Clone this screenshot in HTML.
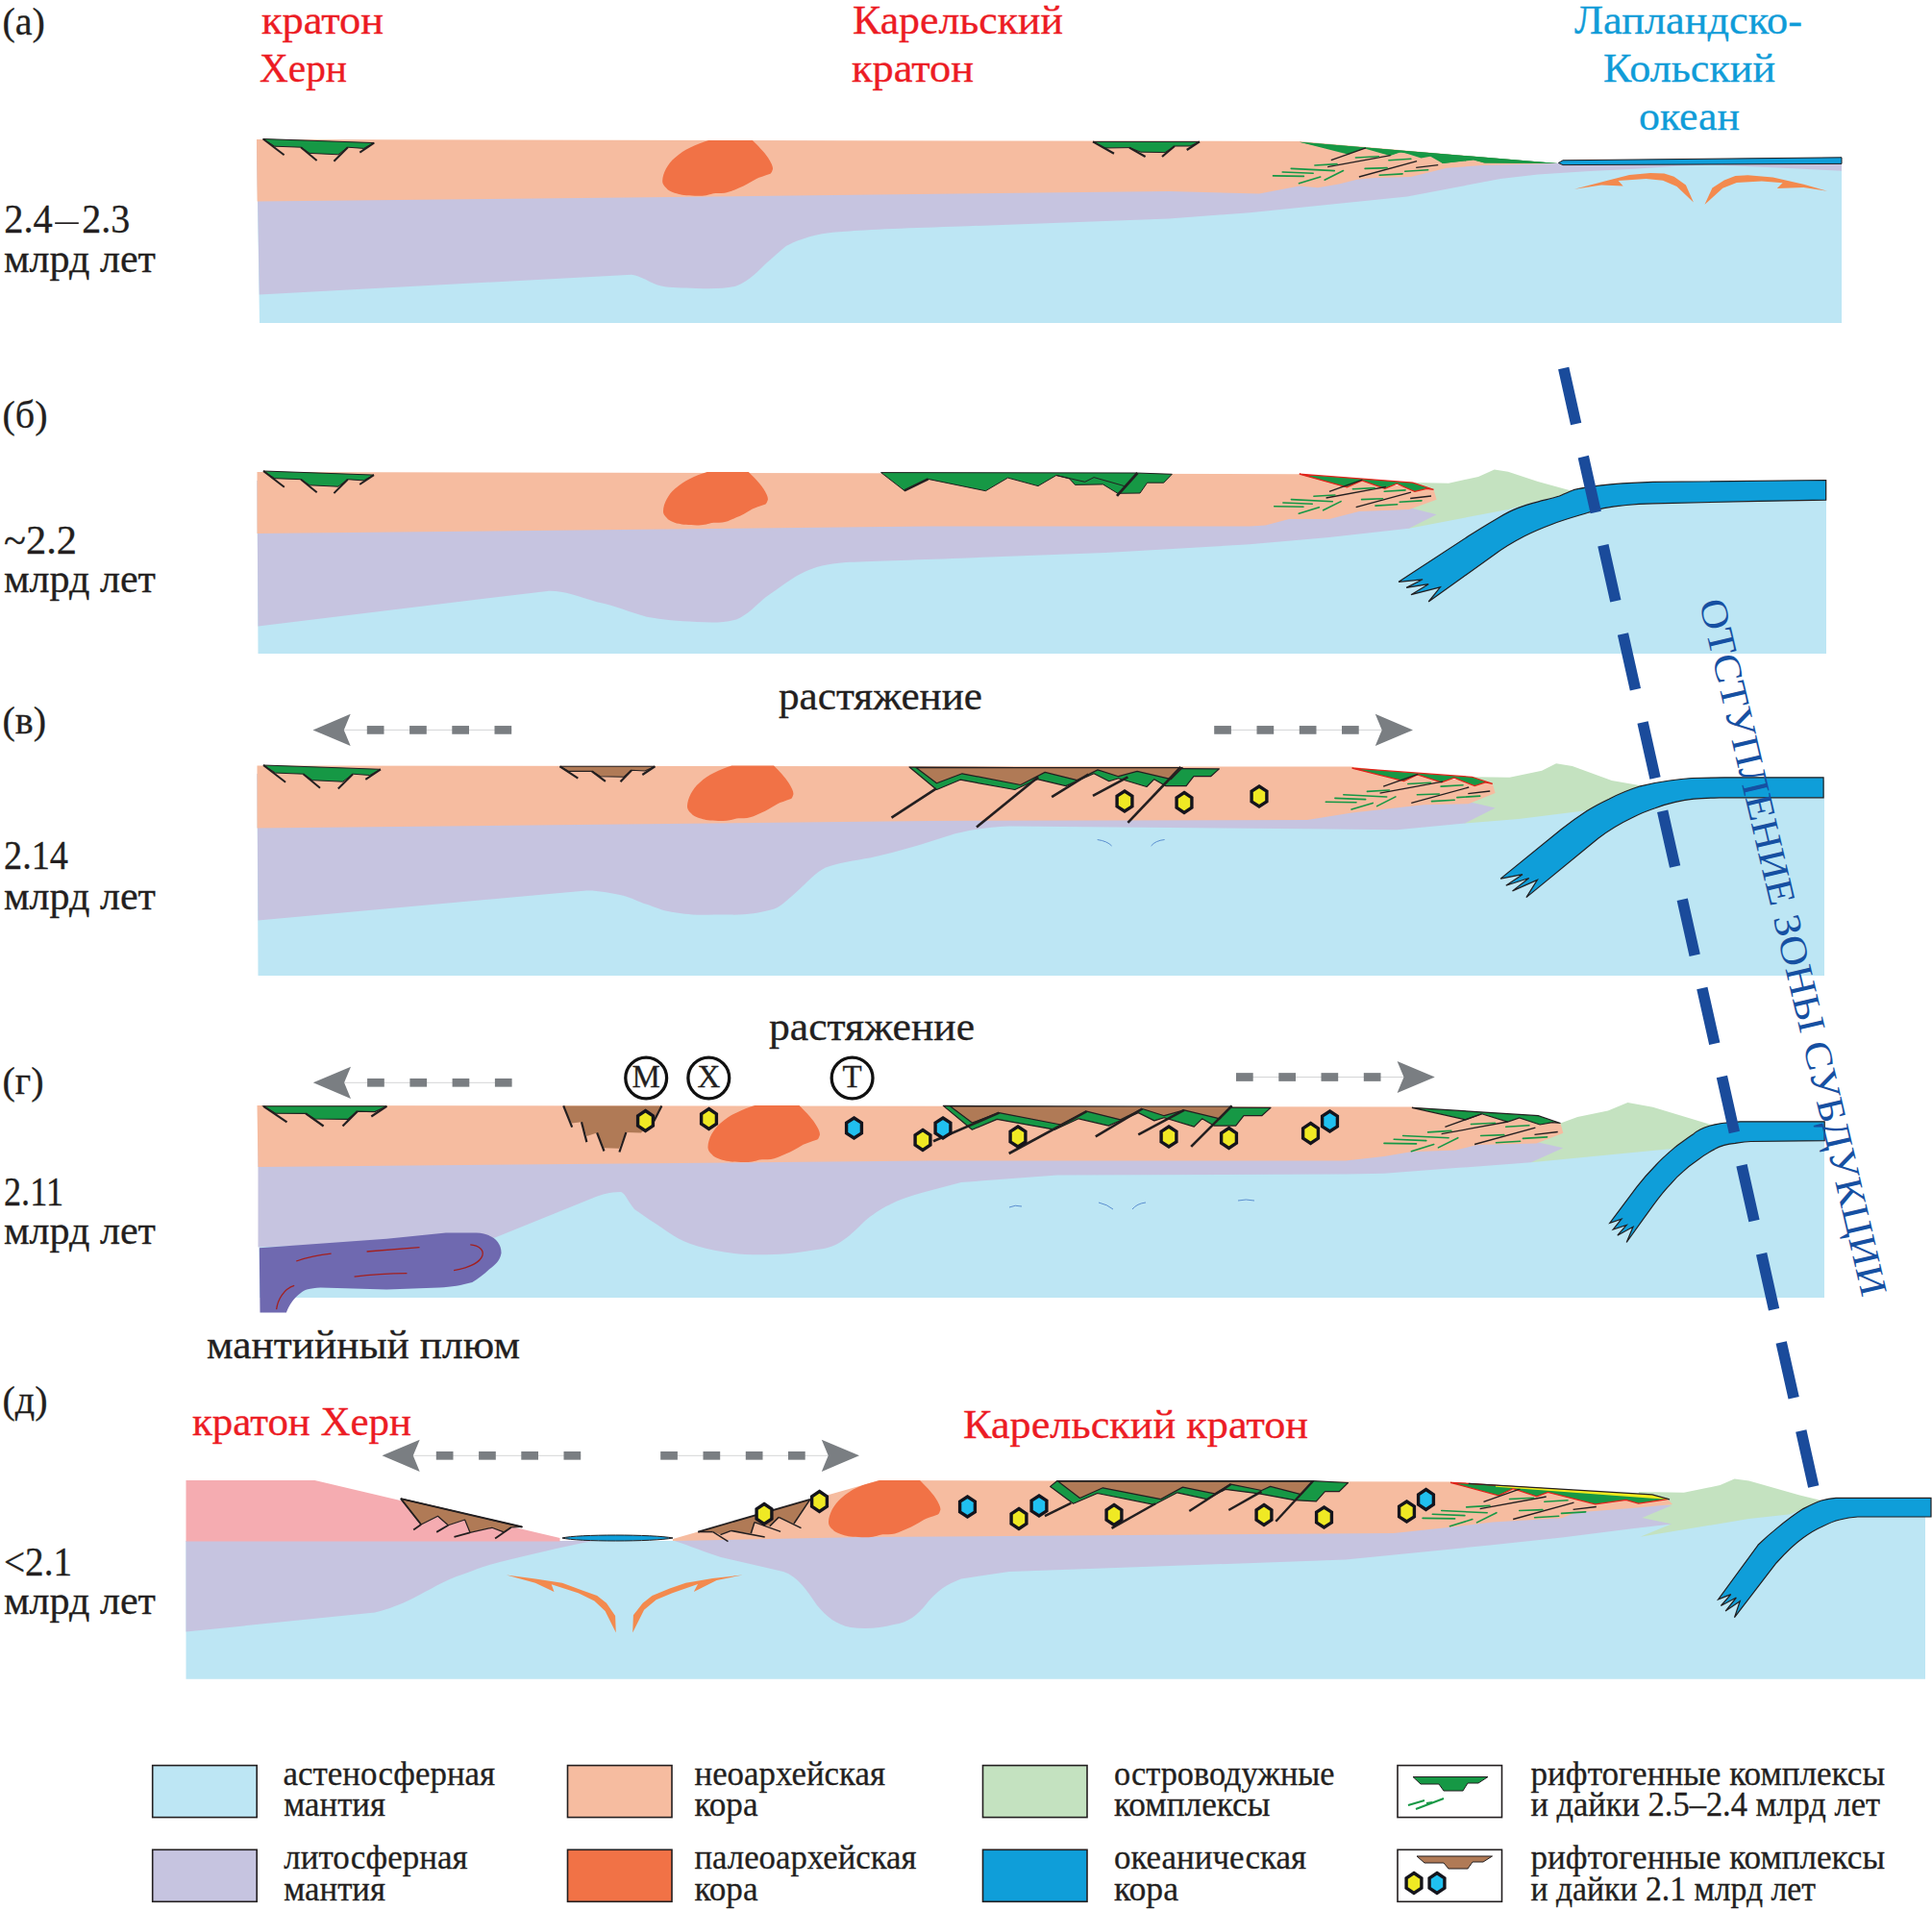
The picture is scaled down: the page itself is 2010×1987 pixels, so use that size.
<!DOCTYPE html><html><head><meta charset="utf-8"><style>html,body{margin:0;padding:0;background:#fff}svg{display:block}text{font-family:"Liberation Serif",serif;stroke-width:0.3px;paint-order:stroke}</style></head><body>
<svg width="2010" height="1987" viewBox="0 0 2010 1987">
<defs><clipPath id="clipD"><polygon points="700,1601 915,1540 1100,1540 1100,1610 700,1610"/></clipPath></defs>
<polygon points="267.0,146.0 1352.0,147.7 1620.5,170.0 1626.0,166.8 1916.0,163.8 1916.0,336.0 270.0,336.0" fill="#bde6f4" />
<path d="M267,146 L1352,147.7 L1620.5,170 L1626,166.8 L1916,163.8 L1916,177.8 L1850,174.5 L1780,171.6 L1745,172.8 L1700,175.7 L1650,178.2 L1600,181.5 L1561,186 L1464,204.5 L1300,221.3 L1216,227.5 L1000,235.5 C950,237 900,239 880,240.7 C860,242 848,244 838.5,247.4 C830,250 825,252 817.8,256 C810,262 803,269 797,274 C790,281 780,292 766,297.6 C755,300.5 740,300.5 724.6,300 C710,299.8 698,299.5 688,297.6 C675,294 668,287 657,285.7 L269.8,306.5 Z" fill="#c6c4e0" stroke="none" stroke-width="1" />
<polygon points="267.0,145.0 1352.0,147.0 1620.5,170.0 1542.0,172.0 1505.0,174.7 1486.0,179.4 1467.7,184.0 1430.0,185.0 1411.8,186.8 1393.0,191.5 1371.0,195.2 1352.0,193.4 1310.0,201.4 1216.0,199.0 700.0,205.0 267.6,209.5" fill="#f6bca0" />
<g><path d="M737.3,146 L782.9,146 C788,151 795,158 799,164 C803,170 805,175 803.6,177 C803,179.5 802,180.2 801.5,180.7 C795,183 790,184.5 787,185.9 C780,190 775,193 769.4,195.2 C763,198 758,200.3 753.9,200.7 C749,201 745,200.8 742.5,201.2 C739,202 735,203.6 728,203.7 C718,203.8 710,203 706.3,202 C700,200.5 695,198 693.8,196.3 C690,193 689,190.5 689.2,188 C689.5,180 695,170 702,164.2 C708,159 713,156 717.6,153.8 C725,150 731,148 737.3,146 Z" fill="#f17246" transform="translate(689.2,146) scale(1.0000,1.0000) translate(-689.2,-146)"/></g>
<polygon points="273.7,144.5 389.2,148.6 378.4,154.4 361.9,153.2 351.9,160.8 322.1,159.4 313.0,153.2 285.7,152.2" fill="#169845" stroke="#231f20" stroke-width="1"/>
<line x1="273.7" y1="144.5" x2="295.6" y2="161.3" stroke="#231f20" stroke-width="2"/>
<line x1="313.0" y1="153.2" x2="329.6" y2="166.9" stroke="#231f20" stroke-width="2"/>
<line x1="361.9" y1="153.2" x2="347.4" y2="167.7" stroke="#231f20" stroke-width="2"/>
<line x1="389.2" y1="148.6" x2="374.3" y2="158.6" stroke="#231f20" stroke-width="2"/>
<polygon points="1137.0,147.4 1248.0,147.4 1238.0,152.0 1222.0,152.0 1212.0,158.6 1187.0,158.2 1175.0,153.6 1149.0,154.0" fill="#169845" stroke="#231f20" stroke-width="1"/>
<line x1="1137" y1="147.4" x2="1159" y2="159.8" stroke="#231f20" stroke-width="2.2"/>
<line x1="1175" y1="153.6" x2="1191.6" y2="163" stroke="#231f20" stroke-width="2.2"/>
<line x1="1222" y1="152" x2="1209" y2="163" stroke="#231f20" stroke-width="2.2"/>
<line x1="1248" y1="147.4" x2="1234.7" y2="156" stroke="#231f20" stroke-width="2.2"/>
<polygon points="1352.0,147.7 1620.5,170.0 1545.0,169.5 1533.0,166.5 1501.0,170.0 1486.0,161.5 1455.0,158.5 1446.0,162.0 1417.0,153.8 1403.0,160.7" fill="#169845" />
<polygon points="1621.4,169.5 1626.0,166.8 1916.0,163.8 1916.0,170.4 1626.0,171.6" fill="#0f9ed9" stroke="#231f20" stroke-width="1"/>
<polygon points="267.5,500.0 1351.8,500.0 1470.0,512.0 1569.0,525.0 1640.0,510.0 1900.0,503.0 1900.0,680.0 268.5,680.0" fill="#bde6f4" />
<polygon points="1455.0,508.0 1471.8,502.1 1507.0,502.7 1538.0,495.9 1554.7,488.6 1569.0,490.7 1600.0,501.0 1640.0,512.0 1600.0,521.0 1569.0,530.0 1465.6,549.7 1455.0,545.0" fill="#c4e2c0" />
<path d="M267.5,500 L1351.8,500 L1440,515 L1466,528 L1494.6,535.2 L1465.6,549.7 L1382.8,559 L1300,566.3 L1150,575 L1000,580.7 C950,582.5 900,584 880,585 C860,586.5 848,590 838.5,594.2 C825,600 810,612 797,621 C788,628 778,640 766,644.4 C752,648.5 738,647.5 724.6,647 C705,646 690,645 672.9,641.8 C655,637 640,630 621,626.3 C600,620 585,614 569.3,614.9 L268.5,651.5 Z" fill="#c6c4e0" stroke="none" stroke-width="1" />
<polygon points="267.5,491.0 1351.8,493.2 1491.5,509.3 1494.6,519.7 1466.0,530.0 1414.0,532.0 1383.0,540.0 1341.0,540.0 1316.6,546.6 1300.0,547.5 966.0,547.5 267.5,555.0" fill="#f6bca0" />
<g><path d="M737.3,146 L782.9,146 C788,151 795,158 799,164 C803,170 805,175 803.6,177 C803,179.5 802,180.2 801.5,180.7 C795,183 790,184.5 787,185.9 C780,190 775,193 769.4,195.2 C763,198 758,200.3 753.9,200.7 C749,201 745,200.8 742.5,201.2 C739,202 735,203.6 728,203.7 C718,203.8 710,203 706.3,202 C700,200.5 695,198 693.8,196.3 C690,193 689,190.5 689.2,188 C689.5,180 695,170 702,164.2 C708,159 713,156 717.6,153.8 C725,150 731,148 737.3,146 Z" fill="#f17246" transform="translate(690,491) scale(0.9484,0.9619) translate(-689.2,-146)"/></g>
<polygon points="274.0,490.0 389.0,494.1 378.2,499.9 361.8,498.7 351.9,506.2 322.2,504.8 313.1,498.7 285.9,497.7" fill="#169845" stroke="#231f20" stroke-width="1"/>
<line x1="274.0" y1="490.0" x2="295.8" y2="506.7" stroke="#231f20" stroke-width="2"/>
<line x1="313.1" y1="498.7" x2="329.7" y2="512.3" stroke="#231f20" stroke-width="2"/>
<line x1="361.8" y1="498.7" x2="347.4" y2="513.1" stroke="#231f20" stroke-width="2"/>
<line x1="389.0" y1="494.1" x2="374.2" y2="504.0" stroke="#231f20" stroke-width="2"/>
<path d="M1899.7,499.5 L1719.7,501.4 C1705,502 1690,502.8 1678.4,503.6 C1663,505 1648,507 1637,509.7 C1632,511.5 1627,514 1622.4,516 C1615,518.5 1607,520 1600.5,521.8 C1592,524 1585,526 1578.7,528.6 C1571,531.5 1565,535 1559.2,538.4 C1548,545 1538,551 1527.6,557.8 L1455.1,605.3 L1480.1,602.8 L1463.1,611.4 L1486.2,607.7 L1468,618.7 L1498.4,610.9 L1486.2,626 L1554.3,577.3 C1564,570 1575,563.5 1586,557.8 C1595,553 1605,549 1615.1,545.2 C1627,540.5 1640,537 1651.6,533.5 C1657,531.5 1663,529.8 1668.7,528.6 C1685,525.5 1702,524.3 1719.7,523.8 L1829.2,521.4 L1899.7,520.1 Z" fill="#0f9ed9" stroke="#231f20" stroke-width="1.2" stroke-linejoin="miter"/>
<polygon points="267.5,805.0 1405.0,805.0 1550.0,822.0 1600.0,838.0 1680.0,818.0 1898.0,812.0 1898.0,1015.0 268.5,1015.0" fill="#bde6f4" />
<polygon points="1500.0,815.0 1534.2,808.3 1570.5,808.8 1604.1,801.8 1619.0,794.3 1635.8,797.1 1676.8,812.0 1708.4,817.6 1720.0,820.0 1660.0,842.0 1580.0,852.0 1524.0,856.4 1510.0,850.0 1500.0,830.0" fill="#c4e2c0" />
<path d="M267.5,805 L1405,805 L1500,820 L1527.7,834 L1555.6,840.5 L1524,856.4 L1453.2,863.3 L1360,862.3 L1050,859.5 C1020,861 1000,865 985,870 C960,878 935,886 906,892.2 C890,895 870,898 859,902.6 C848,908 840,918 828,928.4 C818,937 812,944 802,946.6 C790,950 775,952 760,951.6 C745,951.5 735,952 725,951.7 C712,951 705,950 695,948 C685,946 678,942 670,940 C660,936 655,933 645,931 C635,929 620,926 610,926.5 L268.5,957.5 Z" fill="#c6c4e0" stroke="none" stroke-width="1" />
<polygon points="267.5,796.5 1405.0,797.5 1552.8,815.4 1555.6,825.0 1527.7,836.2 1481.1,837.2 1406.6,845.6 1360.0,853.0 966.0,854.0 267.5,861.5" fill="#f6bca0" />
<g><path d="M737.3,146 L782.9,146 C788,151 795,158 799,164 C803,170 805,175 803.6,177 C803,179.5 802,180.2 801.5,180.7 C795,183 790,184.5 787,185.9 C780,190 775,193 769.4,195.2 C763,198 758,200.3 753.9,200.7 C749,201 745,200.8 742.5,201.2 C739,202 735,203.6 728,203.7 C718,203.8 710,203 706.3,202 C700,200.5 695,198 693.8,196.3 C690,193 689,190.5 689.2,188 C689.5,180 695,170 702,164.2 C708,159 713,156 717.6,153.8 C725,150 731,148 737.3,146 Z" fill="#f17246" transform="translate(715,796.5) scale(0.9615,0.9965) translate(-689.2,-146)"/></g>
<polygon points="274.0,796.0 396.0,800.3 384.6,806.5 367.2,805.2 356.6,813.2 325.1,811.7 315.5,805.2 286.7,804.1" fill="#169845" stroke="#231f20" stroke-width="1"/>
<line x1="274.0" y1="796.0" x2="297.1" y2="813.7" stroke="#231f20" stroke-width="2"/>
<line x1="315.5" y1="805.2" x2="333.0" y2="819.7" stroke="#231f20" stroke-width="2"/>
<line x1="367.2" y1="805.2" x2="351.8" y2="820.5" stroke="#231f20" stroke-width="2"/>
<line x1="396.0" y1="800.3" x2="380.3" y2="810.9" stroke="#231f20" stroke-width="2"/>
<polygon points="582.5,797.3 681.4,797.3 670.9,802.0 657.1,801.3 649.1,808.2 624.5,807.8 615.8,802.4 591.9,802.4" fill="#b07a56" stroke="#231f20" stroke-width="1.1"/>
<line x1="582.5" y1="797.3" x2="601.3" y2="809.6" stroke="#231f20" stroke-width="2.2"/>
<line x1="615.8" y1="802.4" x2="629.9" y2="812.9" stroke="#231f20" stroke-width="2.2"/>
<line x1="657.1" y1="801.3" x2="645.5" y2="813.3" stroke="#231f20" stroke-width="2.2"/>
<line x1="681.4" y1="797.3" x2="668.3" y2="806" stroke="#231f20" stroke-width="2.2"/>
<path d="M1897.1,808.8 L1794.7,808.8 C1780,809 1770,809.2 1760.2,809.5 C1752,810.2 1745,811 1737.2,812 C1726,813.5 1716,815.5 1706.6,817.8 C1695,821.5 1684,826 1674,831.2 C1666,835 1658,839 1651.1,843.6 C1642,849.5 1633,856 1624.3,862.8 L1561.1,914.1 L1584,909.7 L1566.8,921.2 L1590.7,913.5 L1573.5,926.9 L1599.4,915.4 L1587.9,933.6 L1662.6,872.3 C1674,863.5 1686,856.5 1698.9,850.3 C1706,846.5 1714,843.3 1721.9,840.7 C1729,838 1736,836 1743,834.4 C1750,832.8 1756,831.8 1762.1,831.2 C1771,830.3 1780,830 1789,829.8 L1897.1,829.8 Z" fill="#0f9ed9" stroke="#231f20" stroke-width="1.2" stroke-linejoin="miter"/>
<polygon points="268.5,1158.0 1468.9,1158.0 1623.5,1175.0 1700.0,1185.0 1760.0,1176.0 1898.0,1172.0 1898.0,1350.0 270.0,1350.0" fill="#bde6f4" />
<polygon points="1600.0,1175.0 1623.5,1168.5 1641.2,1162.0 1672.9,1155.5 1693.4,1147.1 1719.5,1151.8 1781.0,1170.4 1790.0,1172.0 1740.0,1195.0 1592.8,1209.2 1590.0,1190.0" fill="#c4e2c0" />
<path d="M268.5,1158 L1468.9,1158 L1580,1175 L1598.4,1188 L1626.3,1194.2 L1592.8,1209.2 L1514.5,1215.1 L1440,1220.7 L1400,1221.5 L1100,1222.5 L1000,1230 L966,1239 C930,1248 915,1258 900,1270 C880,1290 870,1298 850,1300 C820,1305 800,1306 775,1305 C740,1302 715,1295 700,1285 C685,1275 670,1265 660,1258 C652,1248 650,1240 645,1240 C635,1240 625,1243 620,1245 L515,1287.5 L268.5,1297.5 Z" fill="#c6c4e0" stroke="none" stroke-width="1" />
<path d="M269.8,1298.3 L402.2,1288.7 L463.9,1282.5 L495.5,1282.5 C512,1283 522,1292 521.5,1303.8 C520,1312 515,1316 509.2,1320.3 C503,1326 497,1331 491.3,1334 C480,1337 470,1339 457,1339.5 L402.2,1341.5 L333.6,1339.5 C322,1340 316,1342 313,1345 C307,1349 301,1357 297.9,1365.5 L270.5,1365.5 Z" fill="#6f69b0" stroke="none" stroke-width="1" />
<polygon points="267.5,1150.0 1468.9,1151.4 1623.5,1168.5 1626.3,1178.8 1598.4,1189.4 1536.9,1190.9 1514.5,1196.5 1468.0,1198.3 1440.0,1203.0 1400.0,1207.5 966.0,1207.5 268.5,1214.0" fill="#f6bca0" />
<g><path d="M737.3,146 L782.9,146 C788,151 795,158 799,164 C803,170 805,175 803.6,177 C803,179.5 802,180.2 801.5,180.7 C795,183 790,184.5 787,185.9 C780,190 775,193 769.4,195.2 C763,198 758,200.3 753.9,200.7 C749,201 745,200.8 742.5,201.2 C739,202 735,203.6 728,203.7 C718,203.8 710,203 706.3,202 C700,200.5 695,198 693.8,196.3 C690,193 689,190.5 689.2,188 C689.5,180 695,170 702,164.2 C708,159 713,156 717.6,153.8 C725,150 731,148 737.3,146 Z" fill="#f17246" transform="translate(736.5,1150) scale(1.0140,1.0225) translate(-689.2,-146)"/></g>
<polygon points="274.1,1150.8 402.4,1150.8 390.0,1156.6 371.8,1156.1 361.9,1164.4 327.1,1164.0 318.0,1158.4 286.5,1158.2" fill="#169845" stroke="#231f20" stroke-width="1.1"/>
<line x1="274.1" y1="1150.8" x2="298.5" y2="1167.3" stroke="#231f20" stroke-width="2.2"/>
<line x1="318" y1="1158.4" x2="336.6" y2="1171.5" stroke="#231f20" stroke-width="2.2"/>
<line x1="371.8" y1="1156.1" x2="356.5" y2="1171.5" stroke="#231f20" stroke-width="2.2"/>
<line x1="402.4" y1="1150.8" x2="386.3" y2="1161.5" stroke="#231f20" stroke-width="2.2"/>
<path d="M1898.2,1166.8 L1810.7,1166.8 C1795,1167.5 1785,1169 1778.4,1171.3 C1770,1174 1765,1177 1762.2,1179.4 C1755,1184 1750,1188 1743.4,1192.9 C1735,1200 1728,1206 1721.9,1213 C1715,1220 1709,1227 1703,1234.6 L1674.8,1272.3 L1686.9,1268.2 L1678.2,1279 L1692.2,1274.4 L1682.8,1285.2 L1699,1276.3 L1692.2,1292.5 L1719.2,1254.8 C1725,1247 1732,1238 1738,1231.9 C1743,1226 1747,1222 1751.5,1218.4 C1756,1214 1760,1211 1764.9,1207.7 C1771,1203 1777,1199 1783.7,1195.6 C1790,1192 1797,1190 1805.3,1189.4 C1811,1188.5 1815,1187.8 1821.5,1187.5 L1898.2,1186.7 Z" fill="#0f9ed9" stroke="#231f20" stroke-width="1.2" stroke-linejoin="miter"/>
<polygon points="193.5,1603.0 700.0,1603.0 900.0,1600.0 1740.0,1575.0 1800.0,1580.0 1890.0,1567.0 2003.0,1567.0 2003.0,1746.8 193.5,1746.8" fill="#bde6f4" />
<polygon points="1700.0,1580.0 1705.0,1552.0 1751.8,1552.7 1789.5,1545.1 1804.5,1538.5 1819.6,1540.4 1872.4,1555.5 1895.0,1561.0 1863.0,1575.3 1819.6,1580.0 1706.5,1598.8 1738.6,1585.6" fill="#c4e2c0" />
<path d="M193.5,1603 L582,1603 L620,1602.5 L700,1602.5 L900,1596 L1450,1590 L1500,1584 L1690,1565 L1739.4,1566 L1708.4,1579 L1739.4,1585.6 L1700,1590 L1625,1599.6 L1550,1607.5 L1400,1622.5 L1050,1635 L1000,1642.5 C985,1648 975,1655 965,1667 C955,1680 945,1688 930,1690 C915,1694 900,1695 885,1693 C870,1690 860,1682 850,1670 C840,1655 830,1640 815,1635 L750,1620 C725,1612 710,1605 700,1602.5 L620,1602.5 C580,1610 550,1618 520,1625 C500,1630 490,1635 475,1640 C455,1648 440,1658 425,1665 C410,1672 400,1675 390,1677.5 L193.5,1697.5 Z" fill="#c6c4e0" stroke="none" stroke-width="1" />
<polygon points="193.5,1540.0 327.5,1540.0 582.5,1600.0 582.5,1603.5 193.5,1603.5" fill="#f5acb1" />
<polygon points="700.0,1601.0 915.0,1540.0 1509.0,1541.5 1735.0,1559.7 1740.0,1565.0 1697.4,1569.1 1639.4,1573.5 1625.0,1579.3 1552.5,1583.6 1509.0,1588.7 1450.0,1595.0 900.0,1599.0 700.0,1603.0" fill="#f6bca0" />
<g clip-path="url(#clipD)"><path d="M737.3,146 L782.9,146 C788,151 795,158 799,164 C803,170 805,175 803.6,177 C803,179.5 802,180.2 801.5,180.7 C795,183 790,184.5 787,185.9 C780,190 775,193 769.4,195.2 C763,198 758,200.3 753.9,200.7 C749,201 745,200.8 742.5,201.2 C739,202 735,203.6 728,203.7 C718,203.8 710,203 706.3,202 C700,200.5 695,198 693.8,196.3 C690,193 689,190.5 689.2,188 C689.5,180 695,170 702,164.2 C708,159 713,156 717.6,153.8 C725,150 731,148 737.3,146 Z" fill="#f17246" transform="translate(862,1540) scale(1.0140,1.0260) translate(-689.2,-146)"/></g>
<path d="M585,1600 C600,1596 680,1596 700,1600 C680,1604 600,1604 585,1600 Z" fill="#0f9ed9" stroke="#231f20" stroke-width="1" />
<path d="M2009,1558.3 L1910,1558.3 C1903,1558.8 1899,1559.8 1895,1561 C1888,1563.5 1882,1566.5 1876,1569.6 C1866,1576 1857,1583 1848,1590.4 C1841,1596 1835,1601.5 1829,1607.3 L1787.6,1663.9 L1800.8,1658.6 L1790.4,1670.5 L1806.4,1662 L1795.1,1676.1 L1810.2,1665.7 L1804.5,1682.7 L1848,1626 C1857,1616 1866,1607 1876,1599.8 C1882,1595.5 1888,1591.5 1895,1588.5 C1901,1585.5 1907,1582.5 1913.9,1581 C1920,1579.5 1926,1578.5 1932.7,1578 L2009,1578 Z" fill="#0f9ed9" stroke="#231f20" stroke-width="1.2" stroke-linejoin="miter"/>
<text x="2.5" y="36" font-size="40" fill="#231f20" stroke="#231f20" >(а)</text>
<text x="4.2" y="242" font-size="41.5" fill="#231f20" stroke="#231f20" textLength="50.5" lengthAdjust="spacingAndGlyphs" >2.4</text>
<rect x="57.2" y="231.3" width="24.6" height="1.7" fill="#231f20"/>
<text x="85.3" y="242" font-size="41.5" fill="#231f20" stroke="#231f20" textLength="50" lengthAdjust="spacingAndGlyphs" >2.3</text>
<text x="4" y="283" font-size="41.5" fill="#231f20" stroke="#231f20" textLength="158" lengthAdjust="spacingAndGlyphs" >млрд лет</text>
<text x="2.5" y="445" font-size="40" fill="#231f20" stroke="#231f20" >(б)</text>
<text x="4" y="576" font-size="41.5" fill="#231f20" stroke="#231f20" textLength="76" lengthAdjust="spacingAndGlyphs" >~2.2</text>
<text x="4" y="616" font-size="41.5" fill="#231f20" stroke="#231f20" textLength="158" lengthAdjust="spacingAndGlyphs" >млрд лет</text>
<text x="2.5" y="763" font-size="40" fill="#231f20" stroke="#231f20" >(в)</text>
<text x="4" y="904" font-size="41.5" fill="#231f20" stroke="#231f20" textLength="67" lengthAdjust="spacingAndGlyphs" >2.14</text>
<text x="4" y="946" font-size="41.5" fill="#231f20" stroke="#231f20" textLength="158" lengthAdjust="spacingAndGlyphs" >млрд лет</text>
<text x="2.5" y="1138" font-size="40" fill="#231f20" stroke="#231f20" >(г)</text>
<text x="4" y="1253.5" font-size="41.5" fill="#231f20" stroke="#231f20" textLength="62" lengthAdjust="spacingAndGlyphs" >2.11</text>
<text x="4" y="1294" font-size="41.5" fill="#231f20" stroke="#231f20" textLength="158" lengthAdjust="spacingAndGlyphs" >млрд лет</text>
<text x="2.5" y="1470" font-size="40" fill="#231f20" stroke="#231f20" >(д)</text>
<text x="4" y="1638.5" font-size="41.5" fill="#231f20" stroke="#231f20" textLength="71" lengthAdjust="spacingAndGlyphs" >&lt;2.1</text>
<text x="4" y="1679" font-size="41.5" fill="#231f20" stroke="#231f20" textLength="158" lengthAdjust="spacingAndGlyphs" >млрд лет</text>
<text x="272" y="35" font-size="41.5" fill="#ec1c24" stroke="#ec1c24" textLength="127" lengthAdjust="spacingAndGlyphs" >кратон</text>
<text x="270" y="85" font-size="41.5" fill="#ec1c24" stroke="#ec1c24" textLength="91" lengthAdjust="spacingAndGlyphs" >Херн</text>
<text x="887" y="35" font-size="41.5" fill="#ec1c24" stroke="#ec1c24" textLength="219" lengthAdjust="spacingAndGlyphs" >Карельский</text>
<text x="886" y="85" font-size="41.5" fill="#ec1c24" stroke="#ec1c24" textLength="127" lengthAdjust="spacingAndGlyphs" >кратон</text>
<text x="1638" y="35" font-size="41.5" fill="#109cd8" stroke="#109cd8" textLength="237" lengthAdjust="spacingAndGlyphs" >Лапландско-</text>
<text x="1668" y="85" font-size="41.5" fill="#109cd8" stroke="#109cd8" textLength="179" lengthAdjust="spacingAndGlyphs" >Кольский</text>
<text x="1705" y="135" font-size="41.5" fill="#109cd8" stroke="#109cd8" textLength="105" lengthAdjust="spacingAndGlyphs" >океан</text>
<text x="810" y="737.5" font-size="41.5" fill="#231f20" stroke="#231f20" textLength="212" lengthAdjust="spacingAndGlyphs" >растяжение</text>
<text x="800" y="1082" font-size="41.5" fill="#231f20" stroke="#231f20" textLength="214" lengthAdjust="spacingAndGlyphs" >растяжение</text>
<text x="215" y="1412.5" font-size="41.5" fill="#231f20" stroke="#231f20" textLength="326" lengthAdjust="spacingAndGlyphs" >мантийный плюм</text>
<text x="200" y="1492.5" font-size="41.5" fill="#ec1c24" stroke="#ec1c24" textLength="228" lengthAdjust="spacingAndGlyphs" >кратон Херн</text>
<text x="1002" y="1496" font-size="41.5" fill="#ec1c24" stroke="#ec1c24" textLength="359" lengthAdjust="spacingAndGlyphs" >Карельский кратон</text>
<polygon points="1352.0,147.7 1405.1,159.6 1421.0,153.9 1446.7,161.7 1458.2,157.9 1478.5,164.5 1490.9,162.2 1501.0,170.0 1533.0,166.3 1544.0,169.5 1620.5,170.0" fill="#169845" />
<line x1="1384.8" y1="166.7" x2="1421.0" y2="153.9" stroke="#231f20" stroke-width="1.3"/>
<line x1="1381.2" y1="173.7" x2="1446.7" y2="161.7" stroke="#231f20" stroke-width="1.3"/>
<line x1="1413.9" y1="184.0" x2="1474.1" y2="167.6" stroke="#231f20" stroke-width="1.3"/>
<line x1="1473.2" y1="174.3" x2="1496.2" y2="171.6" stroke="#231f20" stroke-width="1.3"/>
<line x1="1410.4" y1="164.0" x2="1434.3" y2="162.8" stroke="#169845" stroke-width="1.6" stroke-linecap="round"/>
<line x1="1444.9" y1="166.7" x2="1467.9" y2="165.3" stroke="#169845" stroke-width="1.6" stroke-linecap="round"/>
<line x1="1367.9" y1="172.0" x2="1391.0" y2="170.6" stroke="#169845" stroke-width="1.6" stroke-linecap="round"/>
<line x1="1343.2" y1="175.4" x2="1388.3" y2="177.6" stroke="#169845" stroke-width="1.6" stroke-linecap="round"/>
<line x1="1420.1" y1="175.4" x2="1443.1" y2="174.6" stroke="#169845" stroke-width="1.6" stroke-linecap="round"/>
<line x1="1334.2" y1="179.0" x2="1366.2" y2="180.3" stroke="#169845" stroke-width="1.6" stroke-linecap="round"/>
<line x1="1324.5" y1="182.9" x2="1356.4" y2="183.4" stroke="#169845" stroke-width="1.6" stroke-linecap="round"/>
<line x1="1461.7" y1="178.2" x2="1485.7" y2="176.8" stroke="#169845" stroke-width="1.6" stroke-linecap="round"/>
<line x1="1435.2" y1="182.3" x2="1459.1" y2="180.9" stroke="#169845" stroke-width="1.6" stroke-linecap="round"/>
<line x1="1351.5" y1="190.8" x2="1373.7" y2="184.1" stroke="#169845" stroke-width="1.6" stroke-linecap="round"/>
<line x1="1378.1" y1="187.2" x2="1397.5" y2="177.5" stroke="#169845" stroke-width="1.6" stroke-linecap="round"/>
<polygon points="916.6,491.6 1182.5,492.0 1219.3,493.3 1210.7,502.2 1193.6,502.2 1186.0,513.0 1162.9,513.3 1147.5,503.9 1118.5,504.4 1112.5,497.9 1098.9,494.5 1080.0,505.6 1048.5,497.1 1025.4,510.7 965.6,498.4 940.9,510.4" fill="#169845" stroke="#231f20" stroke-width="1" stroke-linejoin="round"/>
<path d="M1098.9,494.5 L1128.7,501.3 L1138.1,496.6 L1169.7,505.6" fill="none" stroke="#231f20" stroke-width="1"/>
<line x1="940.9" y1="510.4" x2="965.6" y2="498.4" stroke="#231f20" stroke-width="2.5"/>
<line x1="1162.0" y1="515.9" x2="1183.4" y2="492.0" stroke="#231f20" stroke-width="2.8"/>
<polygon points="1351.8,493.2 1401.4,506.9 1417.0,500.0 1440.8,508.3 1453.2,503.1 1471.8,511.4 1484.3,508.3 1491.5,509.3 1469.8,502.1" fill="#169845" />
<path d="M1351.8,493.2 L1401.4,506.9 L1417.0,500.0 L1440.8,508.3 L1453.2,503.1 L1471.8,511.4 L1484.3,508.3 L1491.5,509.3 L1469.8,502.1 Z" fill="none" stroke="#e2231a" stroke-width="1.2"/>
<line x1="1383.0" y1="511.3" x2="1417.4" y2="499.1" stroke="#231f20" stroke-width="1.3"/>
<line x1="1379.6" y1="518.0" x2="1441.9" y2="506.5" stroke="#231f20" stroke-width="1.3"/>
<line x1="1410.7" y1="527.7" x2="1468.0" y2="512.1" stroke="#231f20" stroke-width="1.3"/>
<line x1="1467.2" y1="518.5" x2="1489.0" y2="516.0" stroke="#231f20" stroke-width="1.3"/>
<line x1="1407.4" y1="508.7" x2="1430.1" y2="507.6" stroke="#169845" stroke-width="1.6" stroke-linecap="round"/>
<line x1="1440.2" y1="511.3" x2="1462.1" y2="509.9" stroke="#169845" stroke-width="1.6" stroke-linecap="round"/>
<line x1="1366.9" y1="516.3" x2="1388.9" y2="515.0" stroke="#169845" stroke-width="1.6" stroke-linecap="round"/>
<line x1="1343.4" y1="519.6" x2="1386.3" y2="521.7" stroke="#169845" stroke-width="1.6" stroke-linecap="round"/>
<line x1="1416.6" y1="519.6" x2="1438.5" y2="518.8" stroke="#169845" stroke-width="1.6" stroke-linecap="round"/>
<line x1="1334.9" y1="523.0" x2="1365.3" y2="524.2" stroke="#169845" stroke-width="1.6" stroke-linecap="round"/>
<line x1="1325.7" y1="526.7" x2="1356.0" y2="527.2" stroke="#169845" stroke-width="1.6" stroke-linecap="round"/>
<line x1="1456.2" y1="522.2" x2="1479.0" y2="520.9" stroke="#169845" stroke-width="1.6" stroke-linecap="round"/>
<line x1="1431.0" y1="526.1" x2="1453.7" y2="524.7" stroke="#169845" stroke-width="1.6" stroke-linecap="round"/>
<line x1="1351.3" y1="534.2" x2="1372.4" y2="527.8" stroke="#169845" stroke-width="1.6" stroke-linecap="round"/>
<line x1="1376.7" y1="530.8" x2="1395.1" y2="521.6" stroke="#169845" stroke-width="1.6" stroke-linecap="round"/>
<polygon points="946.1,798.0 1268.4,799.9 1259.6,807.7 1241.9,807.7 1234.1,817.6 1212.6,817.6 1200.8,810.7 1193.0,818.5 1163.6,809.7 1153.8,812.7 1138.1,804.8 1108.8,817.6 1079.3,810.7 1055.8,821.5 999.0,811.2 974.5,821.5" fill="#169845" stroke="#231f20" stroke-width="1.2" stroke-linejoin="round"/>
<polygon points="953.0,798.6 1230.2,798.6 1218.4,810.7 1183.1,802.3 1163.6,807.7 1142.0,800.9 1120.5,811.6 1087.2,803.4 1061.7,816.5 1001.0,804.8 974.5,814.7" fill="#b07a56" stroke="#231f20" stroke-width="1.2" stroke-linejoin="round"/>
<line x1="927.5" y1="850.6" x2="974.0" y2="820.4" stroke="#231f20" stroke-width="2.6"/>
<line x1="1016.0" y1="860.5" x2="1080.2" y2="808.3" stroke="#231f20" stroke-width="2.6"/>
<line x1="1094.2" y1="829.2" x2="1132.4" y2="805.5" stroke="#231f20" stroke-width="2.6"/>
<line x1="1137.0" y1="827.9" x2="1173.4" y2="808.3" stroke="#231f20" stroke-width="2.6"/>
<line x1="1173.4" y1="855.8" x2="1228.4" y2="798.0" stroke="#231f20" stroke-width="2.6"/>
<polygon points="1406.6,799.2 1460.6,812.6 1474.6,805.9 1499.7,813.9 1512.8,809.2 1534.2,817.6 1545.4,813.9 1552.8,815.4 1531.4,808.3" fill="#169845" />
<path d="M1406.6,799.2 L1460.6,812.6 L1474.6,805.9 L1499.7,813.9 L1512.8,809.2 L1534.2,817.6 L1545.4,813.9 L1552.8,815.4 L1531.4,808.3 Z" fill="none" stroke="#e2231a" stroke-width="1.2"/>
<line x1="1439.2" y1="818.1" x2="1475.3" y2="805.3" stroke="#231f20" stroke-width="1.3"/>
<line x1="1435.6" y1="825.1" x2="1500.9" y2="813.1" stroke="#231f20" stroke-width="1.3"/>
<line x1="1468.3" y1="835.3" x2="1528.2" y2="819.0" stroke="#231f20" stroke-width="1.3"/>
<line x1="1527.3" y1="825.7" x2="1550.2" y2="823.0" stroke="#231f20" stroke-width="1.3"/>
<line x1="1464.8" y1="815.5" x2="1488.5" y2="814.2" stroke="#169845" stroke-width="1.6" stroke-linecap="round"/>
<line x1="1499.1" y1="818.1" x2="1522.0" y2="816.7" stroke="#169845" stroke-width="1.6" stroke-linecap="round"/>
<line x1="1422.4" y1="823.4" x2="1445.4" y2="822.0" stroke="#169845" stroke-width="1.6" stroke-linecap="round"/>
<line x1="1397.8" y1="826.8" x2="1442.7" y2="829.0" stroke="#169845" stroke-width="1.6" stroke-linecap="round"/>
<line x1="1474.4" y1="826.8" x2="1497.3" y2="826.0" stroke="#169845" stroke-width="1.6" stroke-linecap="round"/>
<line x1="1388.9" y1="830.4" x2="1420.7" y2="831.6" stroke="#169845" stroke-width="1.6" stroke-linecap="round"/>
<line x1="1379.3" y1="834.3" x2="1411.0" y2="834.8" stroke="#169845" stroke-width="1.6" stroke-linecap="round"/>
<line x1="1515.9" y1="829.6" x2="1539.7" y2="828.1" stroke="#169845" stroke-width="1.6" stroke-linecap="round"/>
<line x1="1489.5" y1="833.6" x2="1513.2" y2="832.2" stroke="#169845" stroke-width="1.6" stroke-linecap="round"/>
<line x1="1406.1" y1="842.1" x2="1428.2" y2="835.4" stroke="#169845" stroke-width="1.6" stroke-linecap="round"/>
<line x1="1432.6" y1="838.6" x2="1451.9" y2="828.9" stroke="#169845" stroke-width="1.6" stroke-linecap="round"/>
<path d="M1141.7,873.5 Q1152,875 1156.6,880 M1197.6,880 Q1202,874.5 1211.6,873.5" fill="none" stroke="#5b8fd0" stroke-width="1"/>
<polygon points="586.2,1150.4 688.4,1150.4 680.4,1165.6 666.9,1178.4 651.4,1178.0 644.0,1194.8 628.5,1194.2 621.1,1178.4 610.4,1182.1 605.0,1167.3 594.9,1168.6" fill="#b07a56" />
<line x1="586.2" y1="1150.4" x2="595.2" y2="1172.6" stroke="#231f20" stroke-width="2.2"/>
<line x1="605.0" y1="1167.3" x2="610.4" y2="1188.1" stroke="#231f20" stroke-width="2.2"/>
<line x1="621.1" y1="1178.4" x2="628.5" y2="1197.5" stroke="#231f20" stroke-width="2.2"/>
<line x1="651.4" y1="1178.0" x2="644.4" y2="1198.5" stroke="#231f20" stroke-width="2.2"/>
<line x1="688.4" y1="1150.4" x2="680.4" y2="1166.2" stroke="#231f20" stroke-width="2.2"/>
<polygon points="981.4,1150.4 1322.0,1152.4 1312.7,1160.7 1294.0,1160.7 1285.7,1171.1 1263.0,1171.1 1250.6,1163.8 1242.3,1172.1 1211.2,1162.8 1200.9,1165.9 1184.3,1157.6 1153.3,1171.1 1122.2,1163.8 1097.3,1175.2 1037.3,1164.4 1011.4,1175.2" fill="#169845" stroke="#231f20" stroke-width="1.2" stroke-linejoin="round"/>
<polygon points="988.7,1151.0 1281.6,1151.0 1269.2,1163.8 1231.9,1154.9 1211.2,1160.7 1188.4,1153.5 1165.7,1164.8 1130.5,1156.1 1103.6,1170.0 1039.4,1157.6 1011.4,1168.0" fill="#b07a56" stroke="#231f20" stroke-width="1.2" stroke-linejoin="round"/>
<line x1="971.0" y1="1187.2" x2="1039.4" y2="1157.6" stroke="#231f20" stroke-width="2.6"/>
<line x1="1049.7" y1="1200.0" x2="1130.5" y2="1156.1" stroke="#231f20" stroke-width="2.6"/>
<line x1="1139.8" y1="1182.4" x2="1188.4" y2="1153.5" stroke="#231f20" stroke-width="2.6"/>
<line x1="1184.3" y1="1180.4" x2="1231.9" y2="1154.9" stroke="#231f20" stroke-width="2.6"/>
<line x1="1239.2" y1="1192.8" x2="1281.6" y2="1150.4" stroke="#231f20" stroke-width="2.6"/>
<polygon points="1468.9,1152.3 1524.8,1164.8 1541.5,1158.8 1568.6,1167.0 1580.7,1163.0 1602.1,1170.0 1615.1,1167.6 1623.5,1168.5 1600.2,1160.7" fill="#169845" />
<path d="M1468.9,1152.3 L1524.8,1164.8 L1541.5,1158.8 L1568.6,1167.0 L1580.7,1163.0 L1602.1,1170.0 L1615.1,1167.6 L1623.5,1168.5 L1600.2,1160.7 Z" fill="none" stroke="#231f20" stroke-width="1.2"/>
<line x1="1503.4" y1="1172.3" x2="1541.5" y2="1158.8" stroke="#231f20" stroke-width="1.3"/>
<line x1="1499.6" y1="1179.7" x2="1568.6" y2="1167.0" stroke="#231f20" stroke-width="1.3"/>
<line x1="1534.1" y1="1190.5" x2="1597.4" y2="1173.2" stroke="#231f20" stroke-width="1.3"/>
<line x1="1596.5" y1="1180.3" x2="1620.7" y2="1177.5" stroke="#231f20" stroke-width="1.3"/>
<line x1="1530.4" y1="1169.5" x2="1555.5" y2="1168.2" stroke="#169845" stroke-width="1.6" stroke-linecap="round"/>
<line x1="1566.7" y1="1172.3" x2="1590.9" y2="1170.8" stroke="#169845" stroke-width="1.6" stroke-linecap="round"/>
<line x1="1485.6" y1="1177.9" x2="1509.9" y2="1176.4" stroke="#169845" stroke-width="1.6" stroke-linecap="round"/>
<line x1="1459.6" y1="1181.5" x2="1507.1" y2="1183.8" stroke="#169845" stroke-width="1.6" stroke-linecap="round"/>
<line x1="1540.6" y1="1181.5" x2="1564.8" y2="1180.6" stroke="#169845" stroke-width="1.6" stroke-linecap="round"/>
<line x1="1450.2" y1="1185.3" x2="1483.8" y2="1186.6" stroke="#169845" stroke-width="1.6" stroke-linecap="round"/>
<line x1="1440.0" y1="1189.4" x2="1473.5" y2="1189.9" stroke="#169845" stroke-width="1.6" stroke-linecap="round"/>
<line x1="1584.4" y1="1184.4" x2="1609.6" y2="1182.9" stroke="#169845" stroke-width="1.6" stroke-linecap="round"/>
<line x1="1556.5" y1="1188.7" x2="1581.6" y2="1187.2" stroke="#169845" stroke-width="1.6" stroke-linecap="round"/>
<line x1="1468.4" y1="1197.7" x2="1491.7" y2="1190.6" stroke="#169845" stroke-width="1.6" stroke-linecap="round"/>
<line x1="1496.4" y1="1193.9" x2="1516.8" y2="1183.7" stroke="#169845" stroke-width="1.6" stroke-linecap="round"/>
<path d="M1050,1256 Q1056,1253 1063,1255 M1143,1251 Q1152,1253 1158,1258 M1178,1258 Q1183,1252 1192,1251 M1288,1249 Q1296,1247 1305,1249" fill="none" stroke="#5b8fd0" stroke-width="1"/>
<path d="M308.2,1312 Q325,1306 344.6,1304.1 M381.6,1302 L436.5,1297.6 M368.6,1328.2 Q395,1325 423.4,1324.7 M489.3,1294.9 C507.8,1296.4 510,1314.8 472.1,1321.6 M306.2,1337.4 C295,1341 289,1352 287.6,1362.1" fill="none" stroke="#a3201f" stroke-width="1.3"/>
<polygon points="417.0,1559.1 543.3,1588.5 531.7,1588.9 524.2,1593.9 511.8,1589.3 489.0,1594.3 483.6,1581.0 466.3,1586.8 455.5,1577.3 438.1,1586.0" fill="#b07a56" stroke="#231f20" stroke-width="1.2" stroke-linejoin="round"/>
<line x1="438.1" y1="1586.0" x2="430.2" y2="1591.4" stroke="#231f20" stroke-width="1.8"/>
<line x1="466.3" y1="1586.8" x2="454.2" y2="1593.9" stroke="#231f20" stroke-width="1.8"/>
<line x1="489.0" y1="1594.3" x2="472.5" y2="1598.8" stroke="#231f20" stroke-width="1.8"/>
<line x1="531.7" y1="1588.9" x2="515.1" y2="1600.5" stroke="#231f20" stroke-width="1.8"/>
<line x1="417.0" y1="1559.1" x2="438.1" y2="1586.0" stroke="#231f20" stroke-width="1.8"/>
<line x1="417.0" y1="1559.1" x2="543.3" y2="1588.5" stroke="#231f20" stroke-width="1.8"/>
<polygon points="726.3,1593.6 842.8,1559.8 826.0,1585.0 810.2,1578.4 800.9,1587.8 785.0,1583.6 781.3,1595.2 760.8,1592.4 749.6,1596.6 741.7,1593.6" fill="#b07a56" />
<line x1="726.3" y1="1593.6" x2="842.8" y2="1559.8" stroke="#231f20" stroke-width="1.8"/>
<line x1="741.7" y1="1593.6" x2="757.5" y2="1603.6" stroke="#231f20" stroke-width="1.5"/>
<line x1="760.8" y1="1592.4" x2="795.7" y2="1598.9" stroke="#231f20" stroke-width="1.5"/>
<line x1="785.0" y1="1583.6" x2="812.1" y2="1593.4" stroke="#231f20" stroke-width="1.5"/>
<line x1="810.2" y1="1578.4" x2="833.5" y2="1589.6" stroke="#231f20" stroke-width="1.5"/>
<line x1="842.8" y1="1559.8" x2="826.0" y2="1585.0" stroke="#231f20" stroke-width="1.5"/>
<line x1="726.3" y1="1593.6" x2="741.7" y2="1593.6" stroke="#231f20" stroke-width="1.5"/>
<line x1="749.6" y1="1596.6" x2="760.8" y2="1592.4" stroke="#231f20" stroke-width="1.5"/>
<line x1="785.0" y1="1583.6" x2="781.3" y2="1595.2" stroke="#231f20" stroke-width="1.5"/>
<line x1="810.2" y1="1578.4" x2="800.9" y2="1587.8" stroke="#231f20" stroke-width="1.5"/>
<polygon points="1092.7,1546.4 1099.6,1540.7 1366.0,1540.7 1402.5,1542.5 1393.3,1551.6 1378.5,1551.6 1369.4,1561.9 1346.7,1560.7 1310.2,1553.9 1274.9,1549.4 1255.6,1559.6 1224.8,1552.8 1200.9,1565.3 1141.7,1553.5 1116.6,1564.2" fill="#169845" stroke="#231f20" stroke-width="1.2" stroke-linejoin="round"/>
<polygon points="1101.0,1541.2 1366.0,1541.2 1353.5,1554.6 1321.6,1546.4 1312.5,1550.5 1280.6,1544.1 1263.5,1553.9 1230.5,1547.1 1207.7,1559.6 1147.4,1547.8 1123.5,1558.5" fill="#b07a56" stroke="#231f20" stroke-width="1.2" stroke-linejoin="round"/>
<line x1="1087.0" y1="1577.1" x2="1114.4" y2="1563.7" stroke="#231f20" stroke-width="2.4"/>
<line x1="1156.5" y1="1589.9" x2="1202.0" y2="1564.2" stroke="#231f20" stroke-width="2.4"/>
<line x1="1237.3" y1="1572.1" x2="1280.6" y2="1544.1" stroke="#231f20" stroke-width="2.4"/>
<line x1="1278.3" y1="1571.0" x2="1312.5" y2="1551.6" stroke="#231f20" stroke-width="2.4"/>
<line x1="1327.3" y1="1582.8" x2="1366.0" y2="1540.7" stroke="#231f20" stroke-width="2.4"/>
<polygon points="1509.0,1542.3 1559.0,1555.8 1574.2,1548.6 1598.8,1556.8 1610.4,1552.5 1659.7,1564.8 1691.6,1560.4 1704.6,1564.1 1735.0,1559.7 1719.0,1556.0 1527.8,1543.3" fill="#169845" />
<path d="M1509.0,1542.3 L1559.0,1555.8 L1574.2,1548.6 L1598.8,1556.8 L1610.4,1552.5 L1659.7,1564.8 L1691.6,1560.4 L1704.6,1564.1 L1735.0,1559.7 L1719.0,1556.0 L1527.8,1543.3 Z" fill="none" stroke="#e2231a" stroke-width="1.2"/>
<line x1="1543.5" y1="1562.3" x2="1581.6" y2="1548.8" stroke="#231f20" stroke-width="1.3"/>
<line x1="1539.7" y1="1569.7" x2="1608.7" y2="1557.0" stroke="#231f20" stroke-width="1.3"/>
<line x1="1574.2" y1="1580.5" x2="1637.5" y2="1563.2" stroke="#231f20" stroke-width="1.3"/>
<line x1="1636.6" y1="1570.3" x2="1660.8" y2="1567.5" stroke="#231f20" stroke-width="1.3"/>
<line x1="1570.5" y1="1559.5" x2="1595.6" y2="1558.2" stroke="#169845" stroke-width="1.6" stroke-linecap="round"/>
<line x1="1606.8" y1="1562.3" x2="1631.0" y2="1560.8" stroke="#169845" stroke-width="1.6" stroke-linecap="round"/>
<line x1="1525.7" y1="1567.9" x2="1550.0" y2="1566.4" stroke="#169845" stroke-width="1.6" stroke-linecap="round"/>
<line x1="1499.7" y1="1571.5" x2="1547.2" y2="1573.8" stroke="#169845" stroke-width="1.6" stroke-linecap="round"/>
<line x1="1580.7" y1="1571.5" x2="1604.9" y2="1570.6" stroke="#169845" stroke-width="1.6" stroke-linecap="round"/>
<line x1="1490.3" y1="1575.3" x2="1523.9" y2="1576.6" stroke="#169845" stroke-width="1.6" stroke-linecap="round"/>
<line x1="1480.1" y1="1579.4" x2="1513.6" y2="1579.9" stroke="#169845" stroke-width="1.6" stroke-linecap="round"/>
<line x1="1624.5" y1="1574.4" x2="1649.7" y2="1572.9" stroke="#169845" stroke-width="1.6" stroke-linecap="round"/>
<line x1="1596.6" y1="1578.7" x2="1621.7" y2="1577.2" stroke="#169845" stroke-width="1.6" stroke-linecap="round"/>
<line x1="1508.5" y1="1587.7" x2="1531.8" y2="1580.6" stroke="#169845" stroke-width="1.6" stroke-linecap="round"/>
<line x1="1536.5" y1="1583.9" x2="1556.9" y2="1573.7" stroke="#169845" stroke-width="1.6" stroke-linecap="round"/>
<path d="M1556,1545 L1719,1554.9 L1737,1559.8 L1719,1558.7 L1556,1546.8 Z" fill="#f2ea1d"/>
<path d="M1527.8,1543.3 L1719,1554.9 L1737,1559.8" fill="none" stroke="#231f20" stroke-width="1.2"/>
<path d="M1638,196.8 L1673.5,187.4 L1695.2,181.9 L1717,180.1 L1731.4,180.4 L1741.6,183.8 L1753.9,192.5 L1761.9,210.6 L1744.5,193.9 L1730,187.7 L1712.6,185.9 L1683.6,188.1 L1688.7,193.6 L1666.2,192.5 Z" fill="#f38a4e" stroke="none" stroke-width="1" />
<path d="M1773.5,212.8 L1781.4,195.4 L1793.8,187.4 L1805.4,183 L1818.4,182.3 L1844.5,184.5 L1876.4,191.7 L1901,198.7 L1876.4,194.9 L1848.8,196.1 L1854.6,190.3 L1832.9,188.6 L1806.8,190 L1792.3,195.8 Z" fill="#f38a4e" stroke="none" stroke-width="1" />
<path d="M526.9,1638.4 L556.9,1642.6 L584.9,1646.8 L605.8,1654.5 L621.2,1660 L631,1667.7 L640.1,1681 L640.8,1698.5 L629.6,1676.1 L618.4,1665.6 L601.6,1657.2 L573.7,1648.2 L576.5,1655.9 L556.9,1646.8 Z" fill="#f38a4e" stroke="none" stroke-width="1" />
<path d="M658.2,1698.5 L658.9,1680.3 L668.7,1667.7 L678.5,1660 L696.7,1652.4 L713.4,1646.8 L741.4,1641.9 L772.8,1638.4 L745.6,1644 L721.8,1655.9 L726,1647.9 L699.5,1657.2 L682.7,1664.2 L670.1,1674.7 Z" fill="#f38a4e" stroke="none" stroke-width="1" />
<line x1="357.8" y1="759.4" x2="532.25" y2="759.4" stroke="#d4d5d6" stroke-width="1"/>
<path d="M325.5,759.4 L364.7,742.8 L357.8,759.4 L364.7,776.0 Z" fill="#7a7e82"/>
<rect x="381.8" y="755.05" width="17.7" height="8.7" fill="#7a7e82"/>
<rect x="426.1" y="755.05" width="17.7" height="8.7" fill="#7a7e82"/>
<rect x="470.3" y="755.05" width="17.7" height="8.7" fill="#7a7e82"/>
<rect x="514.5" y="755.05" width="17.7" height="8.7" fill="#7a7e82"/>
<line x1="1437.7" y1="759.4" x2="1263.25" y2="759.4" stroke="#d4d5d6" stroke-width="1"/>
<path d="M1470,759.4 L1430.8,742.8 L1437.7,759.4 L1430.8,776.0 Z" fill="#7a7e82"/>
<rect x="1396.0" y="755.05" width="17.7" height="8.7" fill="#7a7e82"/>
<rect x="1351.8" y="755.05" width="17.7" height="8.7" fill="#7a7e82"/>
<rect x="1307.5" y="755.05" width="17.7" height="8.7" fill="#7a7e82"/>
<rect x="1263.2" y="755.05" width="17.7" height="8.7" fill="#7a7e82"/>
<line x1="358.1" y1="1126.3" x2="532.55" y2="1126.3" stroke="#d4d5d6" stroke-width="1"/>
<path d="M325.8,1126.3 L365.0,1109.7 L358.1,1126.3 L365.0,1142.8999999999999 Z" fill="#7a7e82"/>
<rect x="382.1" y="1121.95" width="17.7" height="8.7" fill="#7a7e82"/>
<rect x="426.4" y="1121.95" width="17.7" height="8.7" fill="#7a7e82"/>
<rect x="470.6" y="1121.95" width="17.7" height="8.7" fill="#7a7e82"/>
<rect x="514.9" y="1121.95" width="17.7" height="8.7" fill="#7a7e82"/>
<line x1="1460.5" y1="1120.5" x2="1286.05" y2="1120.5" stroke="#d4d5d6" stroke-width="1"/>
<path d="M1492.8,1120.5 L1453.6,1103.9 L1460.5,1120.5 L1453.6,1137.1 Z" fill="#7a7e82"/>
<rect x="1418.8" y="1116.15" width="17.7" height="8.7" fill="#7a7e82"/>
<rect x="1374.5" y="1116.15" width="17.7" height="8.7" fill="#7a7e82"/>
<rect x="1330.3" y="1116.15" width="17.7" height="8.7" fill="#7a7e82"/>
<rect x="1286.0" y="1116.15" width="17.7" height="8.7" fill="#7a7e82"/>
<line x1="429.8" y1="1514.3" x2="604.25" y2="1514.3" stroke="#d4d5d6" stroke-width="1"/>
<path d="M397.5,1514.3 L436.7,1497.7 L429.8,1514.3 L436.7,1530.8999999999999 Z" fill="#7a7e82"/>
<rect x="453.8" y="1509.95" width="17.7" height="8.7" fill="#7a7e82"/>
<rect x="498.1" y="1509.95" width="17.7" height="8.7" fill="#7a7e82"/>
<rect x="542.3" y="1509.95" width="17.7" height="8.7" fill="#7a7e82"/>
<rect x="586.5" y="1509.95" width="17.7" height="8.7" fill="#7a7e82"/>
<line x1="861.7" y1="1514.3" x2="687.25" y2="1514.3" stroke="#d4d5d6" stroke-width="1"/>
<path d="M894,1514.3 L854.8,1497.7 L861.7,1514.3 L854.8,1530.8999999999999 Z" fill="#7a7e82"/>
<rect x="820.0" y="1509.95" width="17.7" height="8.7" fill="#7a7e82"/>
<rect x="775.8" y="1509.95" width="17.7" height="8.7" fill="#7a7e82"/>
<rect x="731.5" y="1509.95" width="17.7" height="8.7" fill="#7a7e82"/>
<rect x="687.2" y="1509.95" width="17.7" height="8.7" fill="#7a7e82"/>
<circle cx="672.2" cy="1121.5" r="21.4" fill="#fff" stroke="#111" stroke-width="3.3"/>
<text x="672.2" y="1130.6" font-size="33" text-anchor="middle" fill="#231f20" stroke="#231f20">М</text>
<circle cx="737.3" cy="1121.5" r="21.4" fill="#fff" stroke="#111" stroke-width="3.3"/>
<text x="737.3" y="1130.6" font-size="33" text-anchor="middle" fill="#231f20" stroke="#231f20">Х</text>
<circle cx="886.6" cy="1121.5" r="21.4" fill="#fff" stroke="#111" stroke-width="3.3"/>
<text x="886.6" y="1130.6" font-size="33" text-anchor="middle" fill="#231f20" stroke="#231f20">Т</text>
<polygon points="1170.0,823.0 1177.9,828.2 1177.9,838.8 1170.0,844.0 1162.1,838.8 1162.1,828.2" fill="#efe924" stroke="#14141c" stroke-width="3.4" stroke-linejoin="miter"/>
<polygon points="1232.0,824.5 1239.9,829.8 1239.9,840.2 1232.0,845.5 1224.1,840.2 1224.1,829.8" fill="#efe924" stroke="#14141c" stroke-width="3.4" stroke-linejoin="miter"/>
<polygon points="1310.0,818.0 1317.9,823.2 1317.9,833.8 1310.0,839.0 1302.1,833.8 1302.1,823.2" fill="#efe924" stroke="#14141c" stroke-width="3.4" stroke-linejoin="miter"/>
<polygon points="671.5,1155.5 679.4,1160.8 679.4,1171.2 671.5,1176.5 663.6,1171.2 663.6,1160.8" fill="#efe924" stroke="#14141c" stroke-width="3.4" stroke-linejoin="miter"/>
<polygon points="737.5,1153.5 745.4,1158.8 745.4,1169.2 737.5,1174.5 729.6,1169.2 729.6,1158.8" fill="#efe924" stroke="#14141c" stroke-width="3.4" stroke-linejoin="miter"/>
<polygon points="888.5,1163.0 896.4,1168.2 896.4,1178.8 888.5,1184.0 880.6,1178.8 880.6,1168.2" fill="#20c0f0" stroke="#14141c" stroke-width="3.4" stroke-linejoin="miter"/>
<polygon points="960.0,1175.5 967.9,1180.8 967.9,1191.2 960.0,1196.5 952.1,1191.2 952.1,1180.8" fill="#efe924" stroke="#14141c" stroke-width="3.4" stroke-linejoin="miter"/>
<polygon points="981.0,1163.0 988.9,1168.2 988.9,1178.8 981.0,1184.0 973.1,1178.8 973.1,1168.2" fill="#20c0f0" stroke="#14141c" stroke-width="3.4" stroke-linejoin="miter"/>
<polygon points="1059.0,1172.0 1066.9,1177.2 1066.9,1187.8 1059.0,1193.0 1051.1,1187.8 1051.1,1177.2" fill="#efe924" stroke="#14141c" stroke-width="3.4" stroke-linejoin="miter"/>
<polygon points="1216.0,1172.0 1223.9,1177.2 1223.9,1187.8 1216.0,1193.0 1208.1,1187.8 1208.1,1177.2" fill="#efe924" stroke="#14141c" stroke-width="3.4" stroke-linejoin="miter"/>
<polygon points="1278.5,1173.5 1286.4,1178.8 1286.4,1189.2 1278.5,1194.5 1270.6,1189.2 1270.6,1178.8" fill="#efe924" stroke="#14141c" stroke-width="3.4" stroke-linejoin="miter"/>
<polygon points="1363.5,1168.5 1371.4,1173.8 1371.4,1184.2 1363.5,1189.5 1355.6,1184.2 1355.6,1173.8" fill="#efe924" stroke="#14141c" stroke-width="3.4" stroke-linejoin="miter"/>
<polygon points="1383.5,1156.0 1391.4,1161.2 1391.4,1171.8 1383.5,1177.0 1375.6,1171.8 1375.6,1161.2" fill="#20c0f0" stroke="#14141c" stroke-width="3.4" stroke-linejoin="miter"/>
<polygon points="795.0,1564.5 802.9,1569.8 802.9,1580.2 795.0,1585.5 787.1,1580.2 787.1,1569.8" fill="#efe924" stroke="#14141c" stroke-width="3.4" stroke-linejoin="miter"/>
<polygon points="852.5,1551.5 860.4,1556.8 860.4,1567.2 852.5,1572.5 844.6,1567.2 844.6,1556.8" fill="#efe924" stroke="#14141c" stroke-width="3.4" stroke-linejoin="miter"/>
<polygon points="1006.5,1557.0 1014.4,1562.2 1014.4,1572.8 1006.5,1578.0 998.6,1572.8 998.6,1562.2" fill="#20c0f0" stroke="#14141c" stroke-width="3.4" stroke-linejoin="miter"/>
<polygon points="1060.0,1569.5 1067.9,1574.8 1067.9,1585.2 1060.0,1590.5 1052.1,1585.2 1052.1,1574.8" fill="#efe924" stroke="#14141c" stroke-width="3.4" stroke-linejoin="miter"/>
<polygon points="1081.0,1556.0 1088.9,1561.2 1088.9,1571.8 1081.0,1577.0 1073.1,1571.8 1073.1,1561.2" fill="#20c0f0" stroke="#14141c" stroke-width="3.4" stroke-linejoin="miter"/>
<polygon points="1159.0,1565.5 1166.9,1570.8 1166.9,1581.2 1159.0,1586.5 1151.1,1581.2 1151.1,1570.8" fill="#efe924" stroke="#14141c" stroke-width="3.4" stroke-linejoin="miter"/>
<polygon points="1315.0,1565.5 1322.9,1570.8 1322.9,1581.2 1315.0,1586.5 1307.1,1581.2 1307.1,1570.8" fill="#efe924" stroke="#14141c" stroke-width="3.4" stroke-linejoin="miter"/>
<polygon points="1377.5,1568.0 1385.4,1573.2 1385.4,1583.8 1377.5,1589.0 1369.6,1583.8 1369.6,1573.2" fill="#efe924" stroke="#14141c" stroke-width="3.4" stroke-linejoin="miter"/>
<polygon points="1463.5,1562.0 1471.4,1567.2 1471.4,1577.8 1463.5,1583.0 1455.6,1577.8 1455.6,1567.2" fill="#efe924" stroke="#14141c" stroke-width="3.4" stroke-linejoin="miter"/>
<polygon points="1483.5,1549.5 1491.4,1554.8 1491.4,1565.2 1483.5,1570.5 1475.6,1565.2 1475.6,1554.8" fill="#20c0f0" stroke="#14141c" stroke-width="3.4" stroke-linejoin="miter"/>
<line x1="1626.7" y1="383" x2="1887.3" y2="1549" stroke="#1a4b9b" stroke-width="11.5" stroke-dasharray="59.4 35"/>
<text transform="translate(1767.8,626.5) rotate(76.8)" font-size="40" fill="#1650a2" textLength="743.7" lengthAdjust="spacingAndGlyphs">ОТСТУПЛЕНИЕ ЗОНЫ СУБДУКЦИИ</text>
<rect x="158.7" y="1836.6" width="108.5" height="54" fill="#bde6f4" stroke="#231f20" stroke-width="1.6"/>
<rect x="158.7" y="1924.3" width="108.5" height="54" fill="#c6c4e0" stroke="#231f20" stroke-width="1.6"/>
<rect x="590.5" y="1836.6" width="108.5" height="54" fill="#f6bca0" stroke="#231f20" stroke-width="1.6"/>
<rect x="590.5" y="1924.3" width="108.5" height="54" fill="#f17246" stroke="#231f20" stroke-width="1.6"/>
<rect x="1022.5" y="1836.6" width="108.5" height="54" fill="#c4e2c0" stroke="#231f20" stroke-width="1.6"/>
<rect x="1022.5" y="1924.3" width="108.5" height="54" fill="#0f9ed9" stroke="#231f20" stroke-width="1.6"/>
<rect x="1454" y="1836.6" width="108.5" height="54" fill="#fff" stroke="#231f20" stroke-width="1.6"/>
<rect x="1454" y="1924.3" width="108.5" height="54" fill="#fff" stroke="#231f20" stroke-width="1.6"/>
<text x="294.6" y="1856.5" font-size="35.5" fill="#231f20" stroke="#231f20" textLength="220.6" lengthAdjust="spacingAndGlyphs" >астеносферная</text>
<text x="295.3" y="1889" font-size="35.5" fill="#231f20" stroke="#231f20" textLength="105.7" lengthAdjust="spacingAndGlyphs" >мантия</text>
<text x="295.3" y="1943.5" font-size="35.5" fill="#231f20" stroke="#231f20" textLength="191.3" lengthAdjust="spacingAndGlyphs" >литосферная</text>
<text x="295.3" y="1977" font-size="35.5" fill="#231f20" stroke="#231f20" textLength="105.7" lengthAdjust="spacingAndGlyphs" >мантия</text>
<text x="722.5" y="1856.5" font-size="35.5" fill="#231f20" stroke="#231f20" textLength="198.5" lengthAdjust="spacingAndGlyphs" >неоархейская</text>
<text x="722.5" y="1889" font-size="35.5" fill="#231f20" stroke="#231f20" textLength="66" lengthAdjust="spacingAndGlyphs" >кора</text>
<text x="722.5" y="1943.5" font-size="35.5" fill="#231f20" stroke="#231f20" textLength="231" lengthAdjust="spacingAndGlyphs" >палеоархейская</text>
<text x="722.5" y="1977" font-size="35.5" fill="#231f20" stroke="#231f20" textLength="66" lengthAdjust="spacingAndGlyphs" >кора</text>
<text x="1159" y="1856.5" font-size="35.5" fill="#231f20" stroke="#231f20" textLength="229.5" lengthAdjust="spacingAndGlyphs" >островодужные</text>
<text x="1159" y="1889" font-size="35.5" fill="#231f20" stroke="#231f20" textLength="162.5" lengthAdjust="spacingAndGlyphs" >комплексы</text>
<text x="1159" y="1943.5" font-size="35.5" fill="#231f20" stroke="#231f20" textLength="200" lengthAdjust="spacingAndGlyphs" >океаническая</text>
<text x="1159" y="1977" font-size="35.5" fill="#231f20" stroke="#231f20" textLength="67" lengthAdjust="spacingAndGlyphs" >кора</text>
<text x="1592.5" y="1856.5" font-size="35.5" fill="#231f20" stroke="#231f20" textLength="368.5" lengthAdjust="spacingAndGlyphs" >рифтогенные комплексы</text>
<text x="1592.5" y="1889" font-size="35.5" fill="#231f20" stroke="#231f20" textLength="363.5" lengthAdjust="spacingAndGlyphs" >и дайки 2.5–2.4 млрд лет</text>
<text x="1592.5" y="1943.5" font-size="35.5" fill="#231f20" stroke="#231f20" textLength="368.5" lengthAdjust="spacingAndGlyphs" >рифтогенные комплексы</text>
<text x="1592.5" y="1977" font-size="35.5" fill="#231f20" stroke="#231f20" textLength="296.5" lengthAdjust="spacingAndGlyphs" >и дайки 2.1 млрд лет</text>
<polygon points="1470.0,1848.5 1548.0,1848.5 1538.0,1855.0 1527.0,1855.0 1522.0,1863.0 1502.0,1863.0 1497.0,1856.0 1478.0,1856.0" fill="#169845" stroke="#231f20" stroke-width="1"/>
<path d="M1465,1878 L1482,1873 M1473,1882 L1502,1871 M1484,1876 L1490,1875" stroke="#169845" stroke-width="2" fill="none"/>
<polygon points="1474.0,1931.0 1552.5,1931.0 1543.0,1937.0 1532.0,1937.0 1527.0,1944.0 1507.0,1944.0 1502.0,1938.0 1482.0,1938.0" fill="#b07a56" stroke="#231f20" stroke-width="1"/>
<polygon points="1471.0,1948.5 1478.9,1953.8 1478.9,1964.2 1471.0,1969.5 1463.1,1964.2 1463.1,1953.8" fill="#efe924" stroke="#14141c" stroke-width="3.4" stroke-linejoin="miter"/>
<polygon points="1495.0,1948.5 1502.9,1953.8 1502.9,1964.2 1495.0,1969.5 1487.1,1964.2 1487.1,1953.8" fill="#20c0f0" stroke="#14141c" stroke-width="3.4" stroke-linejoin="miter"/>
</svg></body></html>
